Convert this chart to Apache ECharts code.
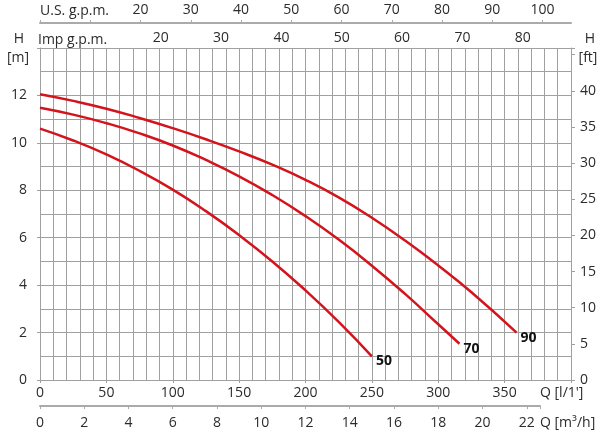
<!DOCTYPE html>
<html>
<head>
<meta charset="utf-8">
<script src="https://cdn.jsdelivr.net/npm/echarts@6/dist/echarts.min.js"></script>
<style>
  html, body { margin: 0; padding: 0; background: #fff; }
  #chart { width: 600px; height: 430px; }
</style>
</head>
<body>
<div id="chart"></div>
<script>
// pump curves, Q in l/min, H in m
const q50 = [0, 25, 50, 75, 100, 125, 150, 175, 200, 225, 250];
const h50 = [10.6, 10.1, 9.51, 8.82, 8.03, 7.12, 6.11, 5.0, 3.78, 2.45, 1.0];
const q70 = [0, 25, 50, 75, 100, 125, 150, 175, 200, 225, 250, 275, 300, 316];
const h70 = [11.48, 11.19, 10.83, 10.4, 9.89, 9.28, 8.59, 7.8, 6.91, 5.92, 4.82, 3.63, 2.35, 1.53];
const q90 = [0, 25, 50, 75, 100, 125, 150, 175, 200, 225, 250, 275, 300, 325, 359];
const h90 = [12.05, 11.77, 11.44, 11.05, 10.62, 10.15, 9.64, 9.08, 8.44, 7.7, 6.84, 5.88, 4.83, 3.7, 2.0];

const curveNames = ['50', '70', '90'];

// axis ranges
const qMax = 400;          // l/min
const hMax = 14;           // m
const ftPerM = 3.28084;
const lPerUsGal = 3.78541;
const lPerImpGal = 4.54609;
const lminPerM3h = 1000 / 60;

const gridLeft = 40, gridRight = 29, m3Right = 60;
const W = 600;
// m3/h axis is shorter than the plot, keep the same scale
const m3Max = (qMax / lminPerM3h) * (W - m3Right - gridLeft) / (W - gridRight - gridLeft);

const font = '"Open Sans", "DejaVu Sans", sans-serif';
const txt = '#2b2b2b';
const gridCol = '#a0a0a0';
const extraAxisCol = '#aaaaaa';
const red = '#d3141c';

function zip(xs, ys) { return xs.map((x, i) => [x, ys[i]]); }

const chart = echarts.init(document.getElementById('chart'));

const lbl = { color: txt, fontSize: 14, fontFamily: font };

const option = {
  animation: false,
  backgroundColor: '#fff',
  grid: [
    { left: gridLeft, right: gridRight, top: 48, bottom: 50 },
    { left: gridLeft, right: m3Right, top: 48, bottom: 24 }
  ],
  xAxis: [
    {
      type: 'value', gridIndex: 0, position: 'bottom', min: 0, max: qMax, interval: 50,
      axisLine: { show: true, onZero: false, lineStyle: { color: gridCol, width: 1 } },
      axisTick: { show: true, length: 3, lineStyle: { color: gridCol } },
      axisLabel: Object.assign({}, lbl, { margin: 6, formatter: v => v < qMax ? v : '' }),
      splitLine: { show: true, lineStyle: { color: gridCol, width: 1 } },
      minorTick: { show: false, splitNumber: 5 },
      minorSplitLine: { show: true, lineStyle: { color: gridCol, width: 1 } }
    },
    {
      type: 'value', gridIndex: 0, position: 'top', offset: 25, min: 0, max: qMax / lPerUsGal, interval: 10,
      axisLine: { show: true, onZero: false, lineStyle: { color: extraAxisCol, width: 2 } },
      axisTick: { show: true, length: 3, lineStyle: { color: extraAxisCol } },
      axisLabel: Object.assign({}, lbl, { margin: 6, formatter: v => v >= 20 ? v : '' }),
      splitLine: { show: false }
    },
    {
      type: 'value', gridIndex: 0, position: 'top', offset: 0, min: 0, max: qMax / lPerImpGal, interval: 10,
      axisLine: { show: false, onZero: false },
      axisTick: { show: false },
      axisLabel: Object.assign({}, lbl, { margin: 3, formatter: v => v >= 20 ? v : '' }),
      splitLine: { show: false }
    },
    {
      type: 'value', gridIndex: 1, position: 'bottom', min: 0, max: m3Max, interval: 2,
      axisLine: { show: true, onZero: false, lineStyle: { color: extraAxisCol, width: 2 } },
      axisTick: { show: true, length: 3, lineStyle: { color: extraAxisCol } },
      axisLabel: Object.assign({}, lbl, { margin: 10, formatter: v => (v % 2 === 0 ? v : '') }),
      splitLine: { show: false }
    }
  ],
  yAxis: [
    {
      type: 'value', gridIndex: 0, position: 'left', min: 0, max: hMax, interval: 2,
      axisLine: { show: true, onZero: false, lineStyle: { color: gridCol, width: 1 } },
      axisTick: { show: true, length: 3, lineStyle: { color: gridCol } },
      axisLabel: Object.assign({}, lbl, { margin: 13, formatter: v => v <= 12 ? v : '' }),
      splitLine: { show: true, lineStyle: { color: gridCol, width: 1 } },
      minorTick: { show: false, splitNumber: 2 },
      minorSplitLine: { show: true, lineStyle: { color: gridCol, width: 1 } }
    },
    {
      type: 'value', gridIndex: 0, position: 'right', min: 0, max: hMax * ftPerM, interval: 5,
      axisLine: { show: true, onZero: false, lineStyle: { color: gridCol, width: 1 } },
      axisTick: { show: true, length: 4, lineStyle: { color: gridCol } },
      axisLabel: Object.assign({}, lbl, { margin: 9, formatter: v => v <= 40 ? v : '' }),
      splitLine: { show: false }
    },
    { type: 'value', gridIndex: 1, min: 0, max: 1, show: false }
  ],
  graphic: [
    { type: 'text', x: 40, y: 11, style: { text: 'U.S. g.p.m.', font: '14px ' + font, fill: txt, verticalAlign: 'middle' } },
    { type: 'text', x: 38, y: 40, style: { text: 'Imp g.p.m.', font: '14px ' + font, fill: txt, verticalAlign: 'middle' } },
    { type: 'text', x: 19, y: 39, style: { text: 'H', font: '14px ' + font, fill: txt, align: 'center', verticalAlign: 'middle' } },
    { type: 'text', x: 18, y: 58, style: { text: '[m]', font: '14px ' + font, fill: txt, align: 'center', verticalAlign: 'middle' } },
    { type: 'text', x: 590, y: 39, style: { text: 'H', font: '14px ' + font, fill: txt, align: 'center', verticalAlign: 'middle' } },
    { type: 'text', x: 588, y: 58, style: { text: '[ft]', font: '14px ' + font, fill: txt, align: 'center', verticalAlign: 'middle' } },
    { type: 'text', x: 540, y: 393, style: { text: "Q [l/1']", font: '14px ' + font, fill: txt, verticalAlign: 'middle' } },
    { type: 'text', x: 540, y: 423, style: { text: 'Q [m³/h]', font: '14px ' + font, fill: txt, verticalAlign: 'middle' } }
  ],
  series: [zip(q50, h50), zip(q70, h70), zip(q90, h90)].map((d, i) => ({
    name: curveNames[i],
    type: 'line',
    xAxisIndex: 0,
    yAxisIndex: 0,
    data: d,
    smooth: true,
    showSymbol: false,
    lineStyle: { color: red, width: 2.5 },
    itemStyle: { color: red },
    endLabel: {
      show: true, formatter: '{a}', color: '#111', fontSize: 14, fontWeight: 'bold',
      fontFamily: font, distance: 4, offset: [0, 5]
    }
  }))
};

chart.setOption(option);
</script>
</body>
</html>
